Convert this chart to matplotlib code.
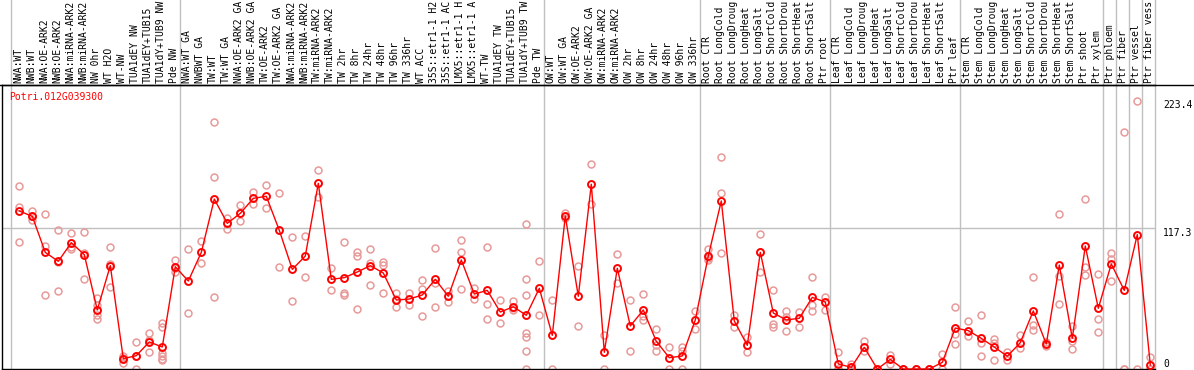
"""Expression profile of Potri.012G039300 across sample columns -> out.png"""

import matplotlib.pyplot as plt

# ---------------------------------------------------------------------------
# Data
# ---------------------------------------------------------------------------

GENE = "Potri.012G039300"

labels = [
    "NWA:WT", "NWB:WT", "NWA:OE-ARK2", "NWB:OE-ARK2", "NWA:miRNA-ARK2",
    "NWB:miRNA-ARK2", "NW 0hr", "WT H2O", "WT-NW", "TUA1dEY NW",
    "TUA1dEY+TUB15", "TUA1dY+TUB9 NW", "Pde NW",
    "NWA:WT GA", "NWBWT GA", "TW:WT", "TW:WT GA", "NWA:OE-ARK2 GA",
    "NWB:OE-ARK2 GA", "TW:OE-ARK2", "TW:OE-ARK2 GA", "NWA:miRNA-ARK2",
    "NWB:miRNA-ARK2", "TW:miRNA-ARK2", "TW:miRNA-ARK2", "TW 2hr", "TW 8hr",
    "TW 24hr", "TW 48hr", "TW 96hr", "TW 336hr", "WT ACC", "35S::etr1-1 H2",
    "35S::etr1-1 AC", "LMX5::etr1-1 H", "LMX5::etr1-1 A", "WT-TW",
    "TUA1dEY TW", "TUA1dEY+TUB15", "TUA1dY+TUB9 TW", "Pde TW",
    "OW:WT", "OW:WT GA", "OW:OE-ARK2", "OW:OE-ARK2 GA", "OW:miRNA-ARK2",
    "OW:miRNA-ARK2", "OW 2hr", "OW 8hr", "OW 24hr", "OW 48hr", "OW 96hr",
    "OW 336hr",
    "Root CTR", "Root LongCold", "Root LongDroug", "Root LongHeat",
    "Root LongSalt", "Root ShortCold", "Root ShortDrou", "Root ShortHeat",
    "Root ShortSalt", "Ptr root",
    "Leaf CTR", "Leaf LongCold", "Leaf LongDroug", "Leaf LongHeat",
    "Leaf LongSalt", "Leaf ShortCold", "Leaf ShortDrou", "Leaf ShortHeat",
    "Leaf ShortSalt", "Ptr leaf",
    "Stem CTR", "Stem LongCold", "Stem LongDroug", "Stem LongHeat",
    "Stem LongSalt", "Stem ShortCold", "Stem ShortDrou", "Stem ShortHeat",
    "Stem ShortSalt", "Ptr shoot", "Ptr xylem",
    "Ptr phloem", "Ptr fiber", "Ptr vessel", "Ptr fiber vess",
]

means = [
    131.5, 127.0, 97.0, 89.6, 105.1, 95.1, 49.1, 86.0, 8.6, 11.1,
    22.5, 18.3, 85.1, 73.2, 97.0, 141.4, 121.2, 129.5, 142.0, 143.7,
    115.4, 82.9, 94.0, 154.5, 74.6, 76.0, 80.7, 86.0, 79.9, 57.4,
    58.2, 61.6, 74.6, 60.5, 90.7, 62.4, 65.4, 47.4, 51.8, 44.7,
    67.1, 28.0, 127.3, 60.5, 153.7, 13.9, 83.8, 35.8, 49.1, 23.0,
    9.4, 10.8, 40.8, 94.0, 139.8, 39.9, 19.7, 97.1, 46.6, 40.8,
    42.2, 59.6, 55.7, 4.2, 1.4, 18.0, 0.0, 8.0, 0.0, 0.0,
    0.0, 5.5, 34.1, 31.9, 25.5, 18.3, 10.6, 21.9, 48.3, 20.8,
    86.5, 25.5, 102.3, 50.5, 87.4, 65.4, 111.9, 3.3,
]

replicates = [
    [152.5, 134.5, 105.4], [131.7, 127.0, 124.0], [128.7, 102.6, 61.6],
    [115.6, 89.0, 64.6], [112.9, 101.2, 99.6], [113.7, 96.3, 74.6],
    [58.8, 53.2, 44.9, 41.3], [101.5, 87.4, 68.0], [11.1, 9.5, 4.7],
    [22.2, 10.5, 0.3], [29.7, 24.1, 13.9], [38.0, 35.2, 13.6, 11.0, 8.5, 7.4],
    [90.7, 84.0, 81.0], [99.6, 46.3], [106.5, 88.2], [205.3, 159.5, 59.9],
    [125.4, 121.5, 116.7], [136.4, 129.5, 123.1], [147.5, 137.0],
    [152.8, 133.9], [146.2, 84.9], [109.8, 56.3], [110.7, 76.5],
    [165.6, 142.9], [84.3, 65.7], [105.4, 63.5, 61.6], [97.6, 94.3, 49.9],
    [99.8, 88.0, 69.9], [89.3, 86.5, 63.5], [63.5, 58.0, 51.3], [63.0, 53.2],
    [74.0, 66.3, 43.8], [100.4, 71.3, 51.3], [64.9, 56.0],
    [107.3, 97.1, 66.3], [67.1, 58.0], [101.5, 54.1, 41.6], [57.4, 38.3],
    [56.8, 51.0, 49.1], [120.4, 74.6, 61.6, 30.2, 26.4, 14.7, 0.3],
    [89.6, 44.7], [57.4, 0.3], [130.0, 125.4], [85.7, 35.5], [170.3, 137.0],
    [28.0, 0.3], [95.4, 71.3], [57.4, 14.7], [62.4, 44.0, 40.8],
    [33.3, 20.0, 14.7], [18.3, 0.3], [18.0, 15.2, 0.3], [48.3, 33.3],
    [99.8, 92.0, 90.7], [176.1, 146.4, 96.3], [44.7, 35.2], [26.9, 13.9],
    [112.0, 97.0, 80.5], [65.7, 37.2, 34.9], [48.3, 43.5, 31.6],
    [47.7, 34.7], [76.3, 53.0, 48.3], [60.2, 49.1], [13.9, 0.3, 0.0],
    [4.2, 0.0], [23.3, 14.7], [0.0, 0.0], [11.6, 4.2], [0.0, 0.0],
    [0.0, 0.0], [0.0, 0.0], [12.5, 0.3], [51.6, 28.8, 20.8], [39.9, 27.7],
    [44.9, 21.4, 10.8], [24.7, 21.4, 7.2], [14.4, 7.5], [28.3, 17.2],
    [76.3, 36.6, 32.4], [22.7, 19.0], [128.7, 77.4, 53.8],
    [35.8, 23.5, 16.4], [141.2, 85.1, 77.9], [78.8, 41.3, 30.5],
    [96.3, 91.3, 73.0], [196.9, 0.0, 0.0], [223.4, 0.3], [10.0, 0.0, 0.0],
]

# gray separators fall after these column counts
group_breaks = [0, 13, 41, 53, 63, 73, 84, 85, 86, 87, 88]

y_ticks = [0, 117.3, 223.4]

# ---------------------------------------------------------------------------
# Figure
# ---------------------------------------------------------------------------

W, H, DPI = 1194, 370, 100
AX_L, AX_R, AX_T, AX_B = 2, 1155, 85, 369   # pixel box of the plot area
COL0, COL_W = 19.3, 13.0                      # pixel x of first column, spacing

fig = plt.figure(figsize=(W / DPI, H / DPI), dpi=DPI)
ax = fig.add_axes([AX_L / W, (H - AX_B) / H, (AX_R - AX_L) / W, (AX_B - AX_T) / H])

ax.set_xlim((AX_L - COL0) / COL_W, (AX_R - COL0) / COL_W)
y_top = (AX_B - AX_T) / (268.5 / 223.4)
ax.set_ylim(0, y_top)

mono = "DejaVu Sans Mono"
red = "#ff0000"
pink = "#e89a9a"

xs = list(range(len(labels)))

ax.axhline(117.3, color="#c0c0c0", linewidth=1, zorder=1)
ext = AX_B / (AX_B - AX_T)
for b in group_breaks:
    ax.axvline(b - 1 + 5 / COL_W, ymin=0, ymax=ext, color="#c0c0c0",
               linewidth=1, clip_on=False, zorder=1)

for x, vals in zip(xs, replicates):
    ax.plot([x] * len(vals), vals, linestyle="none", marker="o", markersize=5,
            markerfacecolor="none", markeredgecolor=pink, markeredgewidth=1.1,
            clip_on=False, zorder=2)

ax.plot(xs, means, color=red, linewidth=1, marker="o", markersize=5,
        markerfacecolor="none", markeredgecolor=red, markeredgewidth=1.4,
        clip_on=False, zorder=3)

# column labels above the plot
for x, lab in zip(xs, labels):
    ax.text(x - 0.1, 1 + 2 / (AX_B - AX_T), lab, transform=ax.get_xaxis_transform(),
            rotation=90, ha="center", va="bottom", fontsize=7, family=mono,
            clip_on=False)

ax.text((9.3 - AX_L) / (AX_R - AX_L), (AX_B - 92) / (AX_B - AX_T), GENE,
        transform=ax.transAxes, color=red, fontsize=7, family=mono,
        ha="left", va="top")

for v in y_ticks:
    va = "bottom" if v == 0 else "top"
    ax.text(1.007, v, f"{v:g}", transform=ax.get_yaxis_transform(),
            fontsize=7, family=mono, ha="left", va=va, clip_on=False)

ax.set_xticks([])
ax.set_yticks([])
for side in ("top", "bottom", "left"):
    ax.spines[side].set_color("black")
    ax.spines[side].set_linewidth(1)
ax.spines["right"].set_visible(False)
# extend the top rule across the whole figure
fig.add_artist(plt.Line2D([0, 1], [(H - AX_T) / H] * 2, color="black",
                          linewidth=1, transform=fig.transFigure))

fig.savefig("out.png", dpi=DPI)
